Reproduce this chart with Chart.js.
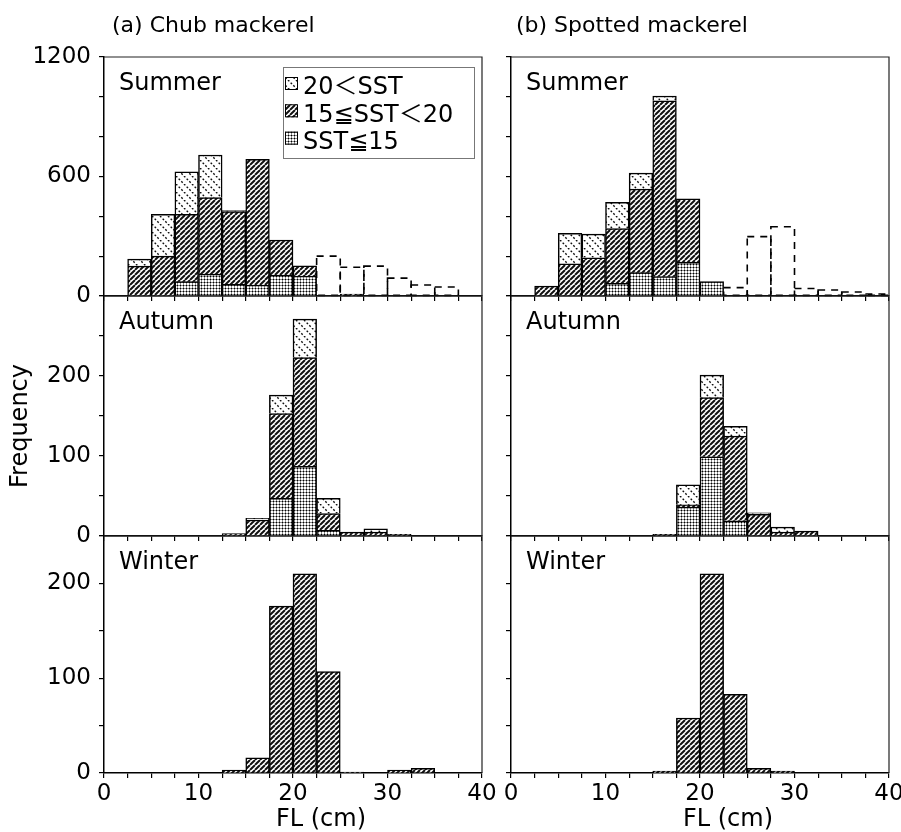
<!DOCTYPE html>
<html>
<head>
<meta charset="utf-8">
<script src="https://cdn.jsdelivr.net/npm/chart.js@4.4.1/dist/chart.umd.min.js"></script>
<style>
  html, body { margin: 0; padding: 0; background: #fff; }
  #wrap { position: relative; width: 901px; height: 832px; overflow: hidden; }
  #wrap canvas { position: absolute; left: 0; top: 0; }
</style>
</head>
<body>
<div id="wrap"></div>
<script>
// FL bins of 2.5 cm, 0-40 cm
const flBins = ['0-2.5', '2.5-5', '5-7.5', '7.5-10', '10-12.5', '12.5-15', '15-17.5', '17.5-20',
                '20-22.5', '22.5-25', '25-27.5', '27.5-30', '30-32.5', '32.5-35', '35-37.5', '37.5-40'];

// (a) Chub mackerel
const chubSummerLow    = [0, 0, 0, 72, 110, 58, 55, 105, 100, 0, 0, 0, 0, 0, 0, 0];
const chubSummerMid    = [0, 150, 200, 338, 384, 366, 631, 176, 52, 0, 10, 0, 0, 0, 0, 0];
const chubSummerHigh   = [0, 35, 210, 214, 214, 5, 0, 0, 0, 0, 0, 0, 0, 0, 0, 0];
const chubSummerDashed = [0, 0, 0, 0, 0, 0, 0, 0, 0, 200, 144, 150, 90, 55, 45, 0];

const chubAutumnLow  = [0, 0, 0, 0, 0, 0, 0, 47, 87, 7, 0, 0, 0, 0, 0, 0];
const chubAutumnMid  = [0, 0, 0, 0, 0, 3, 20, 106, 136, 21, 5, 5, 2, 0, 0, 0];
const chubAutumnHigh = [0, 0, 0, 0, 0, 0, 2, 23, 48, 19, 0, 4, 0, 0, 0, 0];

const chubWinterMid = [0, 0, 0, 0, 0, 3, 16, 176, 210, 107, 1, 0, 3, 5, 0, 0];

// (b) Spotted mackerel
const spotSummerLow    = [0, 0, 0, 0, 64, 117, 97, 169, 72, 0, 0, 0, 0, 0, 0, 0];
const spotSummerMid    = [0, 50, 161, 192, 274, 420, 883, 319, 0, 0, 0, 0, 0, 0, 0, 0];
const spotSummerHigh   = [0, 0, 154, 119, 132, 80, 24, 0, 0, 0, 0, 0, 0, 0, 0, 0];
const spotSummerDashed = [0, 0, 0, 0, 0, 0, 0, 0, 0, 42, 298, 348, 38, 30, 20, 10];

const spotAutumnLow  = [0, 0, 0, 0, 0, 0, 0, 36, 99, 19, 0, 0, 0, 0, 0, 0];
const spotAutumnMid  = [0, 0, 0, 0, 0, 0, 2, 3, 74, 106, 27, 5, 6, 0, 0, 0];
const spotAutumnHigh = [0, 0, 0, 0, 0, 0, 0, 25, 28, 12, 2, 6, 0, 0, 0, 0];

const spotWinterMid = [0, 0, 0, 0, 0, 0, 2, 58, 210, 83, 5, 2, 0, 0, 0, 0];

// axis ranges and labelled ticks per row
const yMax = [1200, 300, 250];
const yStep = [200, 50, 50];
const yLabelled = [[0, 600, 1200], [0, 100, 200], [0, 100, 200]];
const xLabelled = [0, 10, 20, 30, 40];

const seriesNames = ['SST≦15', '15≦SST＜20', '20＜SST'];
const seasons = ['Summer', 'Autumn', 'Winter'];
const columnTitles = ['(a) Chub mackerel', '(b) Spotted mackerel'];

// page layout (plot area edges in px)
const colLeft = [104, 511], colRight = [482, 889];
const rowTop = [57, 296, 536], rowBottom = [296, 536, 773];
const W = 901, H = 832;
const FONT = '"DejaVu Sans", "Noto Sans CJK JP", sans-serif';

Chart.defaults.font.family = FONT;
Chart.defaults.color = '#000';

// fill patterns
function hatchTile(size, draw) {
    const c = document.createElement('canvas');
    c.width = size; c.height = size;
    const g = c.getContext('2d');
    g.fillStyle = '#fff';
    g.fillRect(0, 0, size, size);
    draw(g, size);
    return g.createPattern(c, 'repeat');
}

const patHigh = hatchTile(8, (g, s) => {
    const d = s * Math.SQRT2 / 6;
    g.strokeStyle = '#111';
    g.lineWidth = 1.4;
    g.setLineDash([d, d]);
    for (const k of [-1, 0, 1]) {
        g.beginPath();
        g.moveTo(k * s, 0);
        g.lineTo(k * s + s, s);
        g.stroke();
    }
});

const patMid = hatchTile(5, (g, s) => {
    g.strokeStyle = '#111';
    g.lineWidth = 2;
    g.beginPath();
    for (const k of [-1, 0, 1]) {
        g.moveTo(k * s, s);
        g.lineTo(k * s + s, 0);
    }
    g.stroke();
});

const patLow = hatchTile(3, (g) => {
    g.fillStyle = '#8a8a8a';
    g.fillRect(0, 0, 3, 1);
    g.fillRect(0, 0, 1, 3);
    g.fillStyle = '#000';
    g.fillRect(0, 0, 1, 1);
});
const patterns = [patLow, patMid, patHigh];

// top and right frame of each panel
const framePlugin = {
    id: 'frame',
    beforeDatasetsDraw(chart) {
        const {ctx, chartArea: a} = chart;
        ctx.save();
        ctx.strokeStyle = '#222';
        ctx.lineWidth = 1.2;
        ctx.beginPath();
        ctx.moveTo(a.left, a.top);
        ctx.lineTo(a.right, a.top);
        ctx.lineTo(a.right, a.bottom);
        ctx.stroke();
        ctx.restore();
    }
};

// outlined dashed bars for datasets flagged "dashed"
const dashedPlugin = {
    id: 'dashedBars',
    afterDatasetsDraw(chart) {
        const ctx = chart.ctx;
        chart.data.datasets.forEach((ds, i) => {
            if (!ds.dashed) return;
            const meta = chart.getDatasetMeta(i);
            ctx.save();
            ctx.strokeStyle = '#000';
            ctx.lineWidth = 1.6;
            ctx.setLineDash([7, 6]);
            meta.data.forEach((bar, j) => {
                if (!ds.data[j]) return;
                const {x, y, base, width} = bar.getProps(['x', 'y', 'base', 'width'], true);
                ctx.strokeRect(x - width / 2, y, width, base - y);
            });
            ctx.restore();
        });
    }
};

// free text: season, column title, axis names
const notesPlugin = {
    id: 'notes',
    afterDraw(chart, args, opts) {
        const {ctx, chartArea: a} = chart;
        (opts.items || []).forEach(it => {
            ctx.save();
            ctx.font = it.size + 'px ' + FONT;
            ctx.fillStyle = '#000';
            ctx.textAlign = it.align || 'left';
            ctx.textBaseline = it.baseline || 'alphabetic';
            const y0 = it.from === 'bottom' ? a.bottom : a.top;
            ctx.translate(a.left + it.dx, y0 + it.dy);
            if (it.rot) ctx.rotate(it.rot);
            ctx.fillText(it.text, 0, 0);
            ctx.restore();
        });
    }
};

// SST legend box inside the first panel
const sstLegendPlugin = {
    id: 'sstLegend',
    afterDraw(chart, args, opts) {
        if (!opts.show) return;
        const {ctx, chartArea: a} = chart;
        const bx = a.left + 179, by = a.top + 10;
        ctx.save();
        ctx.fillStyle = '#fff';
        ctx.fillRect(bx, by, 191, 91);
        ctx.strokeStyle = '#777';
        ctx.lineWidth = 1;
        ctx.strokeRect(bx + 0.5, by + 0.5, 191, 91);
        ctx.font = '24px ' + FONT;
        ctx.textBaseline = 'middle';
        const order = [2, 1, 0];
        order.forEach((di, r) => {
            const ds = chart.data.datasets[di];
            const cy = a.top + 31 + r * 27.3;
            ctx.fillStyle = ds.backgroundColor;
            ctx.fillRect(bx + 2, cy - 11, 13, 13);
            ctx.strokeStyle = '#000';
            ctx.lineWidth = 1;
            ctx.strokeRect(bx + 2.5, cy - 10.5, 12, 12);
            ctx.fillStyle = '#000';
            ctx.fillText(ds.label, bx + 20, cy);
        });
        ctx.restore();
    }
};

const panels = [
    {col: 0, row: 0, low: chubSummerLow, mid: chubSummerMid, high: chubSummerHigh, dashed: chubSummerDashed},
    {col: 0, row: 1, low: chubAutumnLow, mid: chubAutumnMid, high: chubAutumnHigh},
    {col: 0, row: 2, mid: chubWinterMid},
    {col: 1, row: 0, low: spotSummerLow, mid: spotSummerMid, high: spotSummerHigh, dashed: spotSummerDashed},
    {col: 1, row: 1, low: spotAutumnLow, mid: spotAutumnMid, high: spotAutumnHigh},
    {col: 1, row: 2, mid: spotWinterMid}
];

const wrap = document.getElementById('wrap');

panels.forEach(p => {
    const canvas = document.createElement('canvas');
    canvas.width = W; canvas.height = H;
    canvas.style.width = W + 'px'; canvas.style.height = H + 'px';
    wrap.appendChild(canvas);

    const L = colLeft[p.col], R = colRight[p.col], T = rowTop[p.row], B = rowBottom[p.row];
    const isBottom = p.row === 2;
    const wy = p.col === 0 ? 97 : 10;
    const hx = isBottom ? H - B : 6;

    const series = [p.low, p.mid, p.high];
    const datasets = series.map((vals, k) => ({
        label: seriesNames[k],
        data: vals || flBins.map(() => 0),
        backgroundColor: patterns[k],
        borderColor: '#000',
        borderWidth: 1.5,
        barPercentage: 1,
        categoryPercentage: 1,
        xAxisID: 'x',
        yAxisID: 'y'
    }));
    if (p.dashed) {
        datasets.push({
            label: 'dashed',
            data: p.dashed,
            backgroundColor: 'rgba(0,0,0,0)',
            borderWidth: 0,
            stack: 'dash',
            grouped: false,
            dashed: true,
            barPercentage: 1,
            categoryPercentage: 1,
            xAxisID: 'x',
            yAxisID: 'y'
        });
    }

    const items = [{text: seasons[p.row], dx: 15, dy: 33, size: 24}];
    if (p.row === 0) items.push({text: columnTitles[p.col], dx: p.col === 0 ? 8 : 5, dy: -25, size: 22});
    if (isBottom) items.push({text: 'FL (cm)', dx: (R - L) / 2 + 28, dy: 47, from: 'bottom', align: 'center', baseline: 'middle', size: 24});
    if (p.row === 1 && p.col === 0) items.push({text: 'Frequency', dx: -83, dy: 130, rot: -Math.PI / 2, align: 'center', baseline: 'middle', size: 24});

    new Chart(canvas.getContext('2d'), {
        type: 'bar',
        data: {labels: flBins, datasets: datasets},
        options: {
            responsive: false,
            animation: false,
            events: [],
            layout: {padding: {left: L - wy, top: T, right: W - R, bottom: H - B - hx}},
            plugins: {
                legend: {display: false},
                tooltip: {enabled: false},
                notes: {items: items},
                sstLegend: {show: p.row === 0 && p.col === 0}
            },
            scales: {
                x: {type: 'category', display: false, stacked: true, offset: true},
                xt: {
                    type: 'linear',
                    position: 'bottom',
                    min: 0,
                    max: 40,
                    offset: false,
                    grid: {offset: false, drawOnChartArea: false, drawTicks: true, tickLength: 5, color: '#000', lineWidth: 1.2},
                    border: {display: true, color: '#000', width: 1.5},
                    ticks: {
                        stepSize: 2.5,
                        autoSkip: false,
                        maxRotation: 0,
                        padding: 2,
                        color: '#000',
                        font: {size: 23},
                        callback: v => (isBottom && xLabelled.includes(v)) ? String(v) : ''
                    },
                    afterFit: s => { s.height = hx; s.paddingLeft = 0; s.paddingRight = 0; }
                },
                y: {
                    type: 'linear',
                    position: 'left',
                    stacked: true,
                    min: 0,
                    max: yMax[p.row],
                    grid: {drawOnChartArea: false, drawTicks: true, tickLength: 5, color: '#000', lineWidth: 1.2},
                    border: {display: true, color: '#000', width: 1.5},
                    ticks: {
                        stepSize: yStep[p.row],
                        padding: 8,
                        color: '#000',
                        font: {size: 23},
                        callback: v => (p.col === 0 && yLabelled[p.row].includes(v)) ? String(v) : ''
                    },
                    afterFit: s => { s.width = wy; s.paddingTop = 0; s.paddingBottom = 0; }
                }
            }
        },
        plugins: [framePlugin, dashedPlugin, notesPlugin, sstLegendPlugin]
    });
});
</script>
</body>
</html>
